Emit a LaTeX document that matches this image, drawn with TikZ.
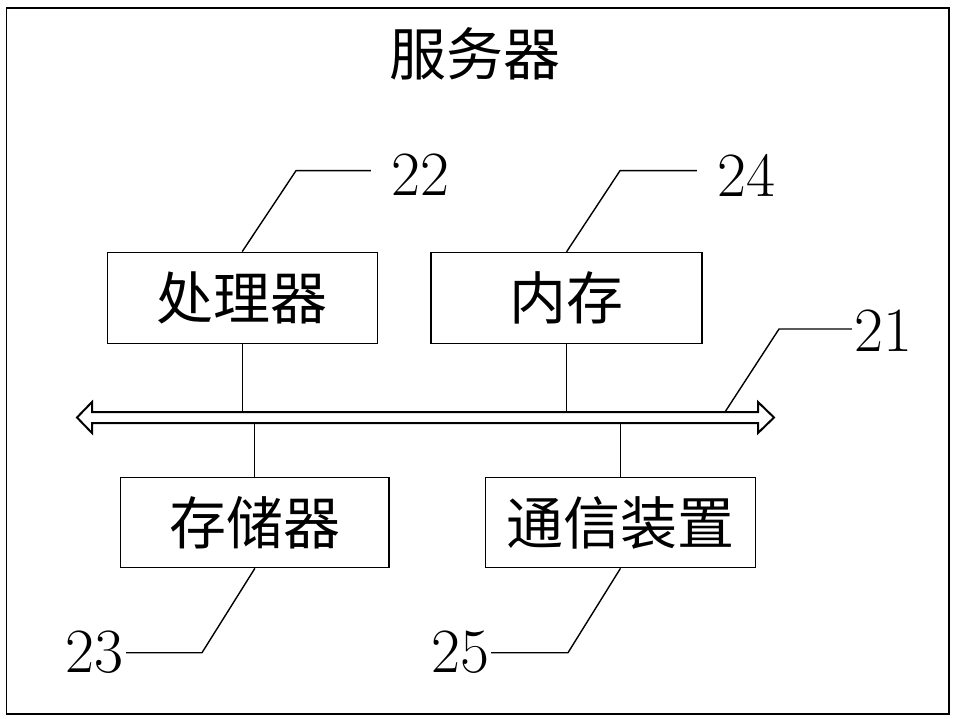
\documentclass[tikz,border=0pt]{standalone}
\usepackage{fontspec}
\newfontfamily\cjk{Noto Sans CJK SC}
\begin{document}
\begin{tikzpicture}[x=1pt,y=-1pt,
  frame/.style={draw, line width=1.3pt},
  box/.style={draw, line width=1.2pt, minimum width=270pt, minimum height=91pt, inner sep=0pt, font=\cjk\fontsize{57}{60}\selectfont},
  num/.style={inner sep=0pt, font=\fontsize{63}{66}\selectfont},
  bus/.style={draw, line width=2pt, line join=miter},
  conn/.style={draw, line width=1.1pt},
  lead/.style={draw, line width=1.4pt}]
\useasboundingbox (0,0) rectangle (957,719);
\draw[frame] (6.5,8) rectangle (949,714);
\node[font=\cjk\fontsize{57}{60}\selectfont, inner sep=0pt] (title) at (475,53.5) {服务器};
% boxes
\node[box] (proc) at (242.2,297.7) {处理器};
\node[box, minimum width=271pt] (mem) at (566.5,298) {内存};
\node[box, minimum width=268.3pt, minimum height=90pt] (stor) at (254.9,522.7) {存储器};
\node[box, minimum width=269.6pt, minimum height=90pt] (comm) at (620.5,522.7) {通信装置};
% bus
\draw[bus] (77,417.5) -- (92,402) -- (92,412) -- (758,412) -- (758,402) -- (774,417.5) -- (758,433) -- (758,423) -- (92,423) -- (92,433) -- cycle;
\coordinate (bt) at (0,412);
\coordinate (bb) at (0,423);
\coordinate (b21) at (725,412);
% connectors
\draw[conn] (proc.south) -- (proc.south |- bt);
\draw[conn] (mem.south) -- (mem.south |- bt);
\draw[conn] (stor.north) -- (stor.north |- bb);
\draw[conn] (comm.north) -- (comm.north |- bb);
% labels
\node[num] (n22) at (420,175) {22};
\node[num] (n24) at (746,175) {24};
\node[num] (n21) at (883,331) {21};
\node[num] (n23) at (94,652.5) {23};
\node[num] (n25) at (460,652.5) {25};
\coordinate (c22) at (296,170.7);
\coordinate (c24) at (620,170.7);
\coordinate (c21) at (779,329);
\coordinate (c23) at (202,652.7);
\coordinate (c25) at (568,652.7);
\draw[lead] (proc.north) -- (c22) -- ([xshift=-20pt]c22 -| n22.west);
\draw[lead] (mem.north) -- (c24) -- ([xshift=-20pt]c24 -| n24.west);
\draw[lead] (b21) -- (c21) -- ([xshift=-2pt]c21 -| n21.west);
\draw[lead] (stor.south) -- (c23) -- ([xshift=3pt]c23 -| n23.east);
\draw[lead] (comm.south) -- (c25) -- ([xshift=2pt]c25 -| n25.east);
\end{tikzpicture}
\end{document}
